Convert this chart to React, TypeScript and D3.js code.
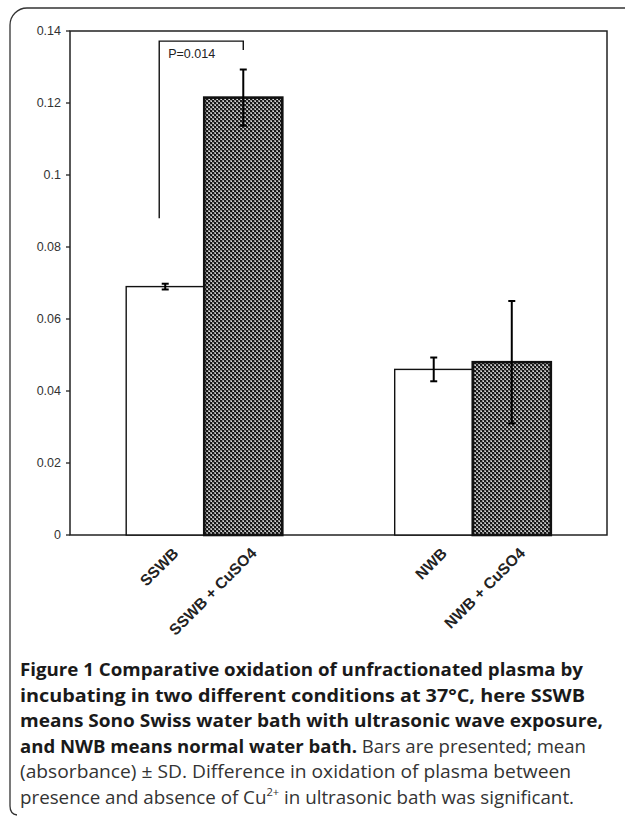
import React from "react";
import * as d3 from "d3";

const groups = ["SSWB", "NWB"];
const conditions = ["plain", "cu"];
const categoryLabels = [
  ["SSWB", "SSWB + CuSO4"],
  ["NWB", "NWB + CuSO4"],
];
const plainMeans = [0.069, 0.046];
const plainSD = [0.0008, 0.0033];
const cuMeans = [0.1215, 0.048];
const cuSD = [0.0078, 0.017];
const yTicks = [0, 0.02, 0.04, 0.06, 0.08, 0.1, 0.12, 0.14];
const yTickLabels = ["0", "0.02", "0.04", "0.06", "0.08", "0.1", "0.12", "0.14"];
const bracketLevels = [0.088, 0.1372, 0.1347];
const pLabel = "P=0.014";

const W = 625;
const H = 816;
const plot = { left: 70, right: 607, top: 31, bottom: 535 };

export default function App() {
  const y = d3.scaleLinear().domain([0, 0.14]).range([plot.bottom, plot.top]);
  const xg = d3.scaleBand().domain(groups).range([plot.left, plot.right]).padding(0);
  const xi = d3
    .scaleBand()
    .domain(conditions)
    .range([0, xg.bandwidth()])
    .paddingInner(0)
    .paddingOuter(0.72);

  const bars: any[] = [];
  groups.forEach((g, gi) => {
    conditions.forEach((c, ci) => {
      const mean = c === "plain" ? plainMeans[gi] : cuMeans[gi];
      const sd = c === "plain" ? plainSD[gi] : cuSD[gi];
      const x0 = (xg(g) as number) + (xi(c) as number);
      bars.push({ g, c, mean, sd, x0, w: xi.bandwidth(), label: categoryLabels[gi][ci] });
    });
  });

  const b0 = bars[0];
  const b1 = bars[1];
  const bx0 = b0.x0 + b0.w / 2 - 6;
  const bx1 = b1.x0 + b1.w / 2;

  const captionLines = [
    { parts: [{ t: "Figure 1 Comparative oxidation of unfractionated plasma by", b: true }], len: 563 },
    { parts: [{ t: "incubating in two different conditions at 37°C, here SSWB", b: true }], len: 565 },
    { parts: [{ t: "means Sono Swiss water bath with ultrasonic wave exposure,", b: true }], len: 583 },
    {
      parts: [
        { t: "and NWB means normal water bath.", b: true },
        { t: " Bars are presented; mean", b: false },
      ],
      len: 566,
    },
    { parts: [{ t: "(absorbance) ± SD. Difference in oxidation of plasma between", b: false }], len: 551 },
  ];

  return (
    <svg
      width={W}
      height={H}
      style={{ position: "absolute", left: 0, top: 0, background: "#fff" }}
      xmlns="http://www.w3.org/2000/svg"
    >
      <defs>
        <pattern id="hatch" patternUnits="userSpaceOnUse" width="4" height="4">
          <rect width="4" height="4" fill="#9a9a9a" />
          <rect x="1" y="3" width="1" height="1" fill="#e6e6e6" />
          <rect x="3" y="1" width="1" height="1" fill="#e6e6e6" />
          <circle cx="1" cy="1" r="1.15" fill="#111" />
          <circle cx="3" cy="3" r="1.15" fill="#111" />
        </pattern>
      </defs>
      <rect width={W} height={H} fill="#fff" />
      {/* outer frame */}
      <path
        d="M625,8 H27 A17,17 0 0 0 10,25 V806 Q10,814 17,815"
        fill="none"
        stroke="#333"
        strokeWidth={1.3}
      />
      {/* plot frame */}
      <rect
        x={plot.left}
        y={plot.top}
        width={plot.right - plot.left}
        height={plot.bottom - plot.top}
        fill="none"
        stroke="#222"
        strokeWidth={1.5}
      />
      {/* y ticks */}
      {yTicks.map((t, i) => (
        <g key={i}>
          <line x1={plot.left - 4} x2={plot.left} y1={y(t)} y2={y(t)} stroke="#222" strokeWidth={1.3} />
          <text
            x={61}
            y={y(t)}
            dy="0.35em"
            textAnchor="end"
            fontFamily="Liberation Sans, Arial, sans-serif"
            fontSize={12.5}
            fill="#333"
          >
            {yTickLabels[i]}
          </text>
        </g>
      ))}
      {/* bars */}
      {bars.map((b, i) => (
        <rect
          key={i}
          x={b.x0}
          y={y(b.mean)}
          width={b.w}
          height={plot.bottom - y(b.mean)}
          fill={b.c === "cu" ? "url(#hatch)" : "#fff"}
          stroke="#111"
          strokeWidth={b.c === "cu" ? 2.6 : 1.4}
        />
      ))}
      {/* error bars */}
      {bars.map((b, i) => {
        const cx = b.x0 + b.w / 2;
        const yt = y(b.mean + b.sd);
        const yb = y(b.mean - b.sd);
        return (
          <g key={i} stroke="#000" strokeWidth={2}>
            <line x1={cx} x2={cx} y1={yt} y2={yb} />
            <line x1={cx - 3.5} x2={cx + 3.5} y1={yt} y2={yt} />
            <line x1={cx - 3.5} x2={cx + 3.5} y1={yb} y2={yb} />
          </g>
        );
      })}
      {/* significance bracket */}
      <path
        d={`M${bx0},${y(bracketLevels[0])} V${y(bracketLevels[1])} H${bx1} V${y(bracketLevels[2])}`}
        fill="none"
        stroke="#111"
        strokeWidth={1.4}
      />
      <text
        x={bx0 + 9}
        y={58}
        fontFamily="Liberation Sans, Arial, sans-serif"
        fontSize={12.5}
        fill="#222"
      >
        {pLabel}
      </text>
      {/* x labels */}
      {bars.map((b, i) => {
        const cx = b.x0 + b.w / 2 + 6;
        const yy = 546;
        return (
          <text
            key={i}
            transform={`translate(${cx},${yy}) rotate(-45)`}
            textAnchor="end"
            dy="0.75em"
            fontFamily="Liberation Sans, Arial, sans-serif"
            fontWeight="bold"
            fontSize={15.5}
            fill="#222"
          >
            {b.label}
          </text>
        );
      })}
      {/* caption */}
      {captionLines.map((l, i) => (
        <text
          key={i}
          x={20}
          y={676 + i * 25.6}
          fontFamily="Open Sans, sans-serif"
          fontSize={18.5}
          fill="#222"
          textLength={l.len}
          lengthAdjust="spacingAndGlyphs"
        >
          {l.parts.map((p, j) => (
            <tspan key={j} fontWeight={p.b ? "bold" : "normal"} fill={p.b ? "#1a1a1a" : "#333"}>
              {p.t}
            </tspan>
          ))}
        </text>
      ))}
      <text
        x={20}
        y={676 + 5 * 25.6}
        fontFamily="Open Sans, sans-serif"
        fontSize={18.5}
        fill="#333"
        textLength={554}
        lengthAdjust="spacingAndGlyphs"
      >
        <tspan>presence and absence of Cu</tspan>
        <tspan fontSize={11} dy={-8}>2+</tspan>
        <tspan dy={8}> in ultrasonic bath was significant.</tspan>
      </text>
    </svg>
  );
}
